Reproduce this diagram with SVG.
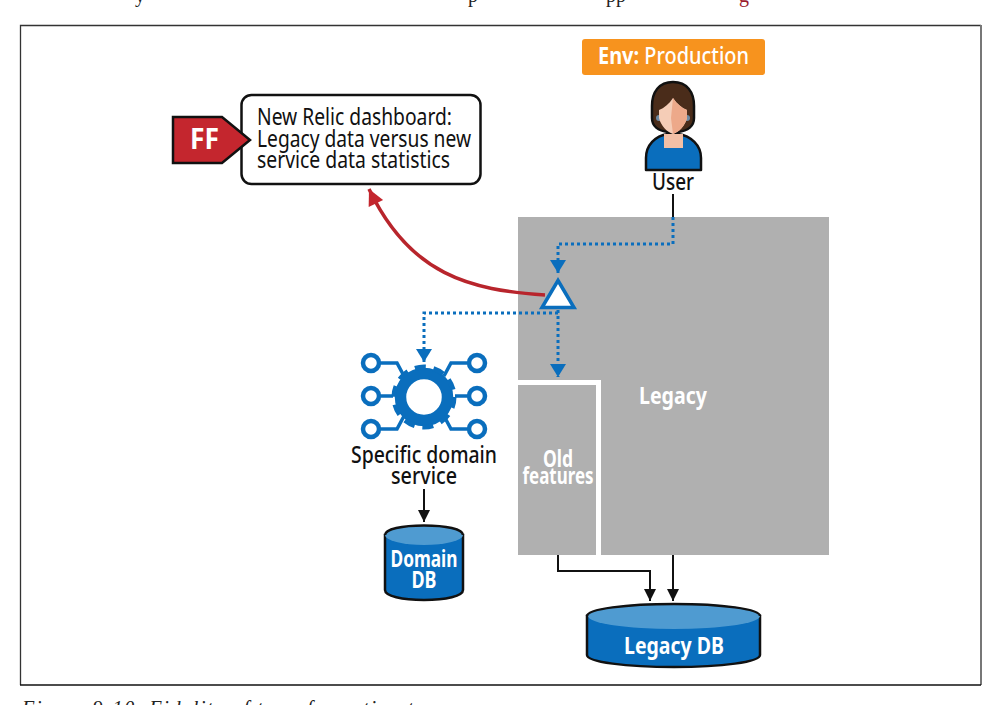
<svg xmlns="http://www.w3.org/2000/svg" width="995" height="705" viewBox="0 0 995 705">
<defs>
<style>
.t{font-family:"Noto Sans","Liberation Sans",sans-serif;font-size:24px;fill:#111}
.b{font-weight:700;fill:#fff}
.m{font-weight:500}
.c{text-anchor:middle}
.serif{font-family:"Liberation Serif",serif;font-size:20px;fill:#222}
.dot{fill:none;stroke:#0a6ebd;stroke-width:3;stroke-dasharray:3 3}
.blk{fill:none;stroke:#111;stroke-width:2}
.cyl{fill:#0a6ebd;stroke:#111;stroke-width:2.5}
.cap{fill:#4f9bd1}
.ring{fill:#fff;stroke:#0a6ebd;stroke-width:4.5}
.wire{fill:none;stroke:#0a6ebd;stroke-width:3.5}
</style>
<marker id="ab" markerUnits="userSpaceOnUse" markerWidth="16" markerHeight="14" refX="13" refY="7" orient="auto"><path d="M1 1 L13 7 L1 13Z" fill="#111"/></marker>
<marker id="au" markerUnits="userSpaceOnUse" markerWidth="20" markerHeight="20" refX="14" refY="9" orient="auto"><path d="M1 1 L14 9 L1 17Z" fill="#0a6ebd"/></marker>
<marker id="ar" markerUnits="userSpaceOnUse" markerWidth="20" markerHeight="20" refX="17" refY="9" orient="auto"><path d="M1 1 L17 9 L1 17Z" fill="#c4262e"/></marker>
</defs>
<rect width="995" height="705" fill="#fff"/>
<text class="serif" x="135" y="2">y</text>
<text class="serif" x="468" y="2">p</text>
<text class="serif" x="606" y="2">pp</text>
<text class="serif" x="739" y="2" style="fill:#9b1c2e">g</text>
<path d="M20.500 685V25.500H981" fill="none" stroke="#333" stroke-width="1.300"/>
<path d="M981 25V685" fill="none" stroke="#777" stroke-width="2"/>
<path d="M20 685H981" fill="none" stroke="#111" stroke-width="1.500"/>
<text class="serif" x="22" y="715" font-style="italic" textLength="403">Figure 9-10. Fidelity of transformation to</text>

<g id="legacy">
<rect x="518" y="217" width="311" height="338" fill="#b0b0b0"/>
<path d="M518 382.500H598.500V555" fill="none" stroke="#fff" stroke-width="5"/>
<text class="t b c" x="673" y="404" textLength="68" lengthAdjust="spacingAndGlyphs">Legacy</text>
<text class="t b c" x="558" y="467" textLength="30" lengthAdjust="spacingAndGlyphs">Old</text>
<text class="t b c" x="558" y="484" textLength="71" lengthAdjust="spacingAndGlyphs">features</text>
</g>

<g id="connectors">
<path class="blk" d="M673 194V217"/>
<path class="dot" d="M673 217V244H558V273" marker-end="url(#au)"/>
<path class="dot" d="M558 310V377" marker-end="url(#au)"/>
<path class="dot" d="M558 313H424V362" marker-end="url(#au)"/>
<path d="M545 295C470 290 410 275 369 189" fill="none" stroke="#b8252c" stroke-width="3.500" marker-end="url(#ar)"/>
<path class="blk" d="M424 489V522" marker-end="url(#ab)"/>
<path class="blk" d="M558 555V571H650V601" marker-end="url(#ab)"/>
<path class="blk" d="M673 555V601" marker-end="url(#ab)"/>
</g>

<g id="router"><path d="M558 280.500L574 307.500H542Z" fill="#fff" stroke="#0a6ebd" stroke-width="3.500"/></g>

<g id="dashboard">
<rect x="241.500" y="95" width="239" height="89" rx="10" fill="#fff" stroke="#111" stroke-width="2.500"/>
<text class="t" x="257" y="125" textLength="195" lengthAdjust="spacingAndGlyphs">New Relic dashboard:</text>
<text class="t" x="257" y="147" textLength="214" lengthAdjust="spacingAndGlyphs">Legacy data versus new</text>
<text class="t" x="257" y="168" textLength="193" lengthAdjust="spacingAndGlyphs">service data statistics</text>
</g>

<g id="ff">
<path d="M173 117H222L250 140L222 163H173Z" fill="#c4262e" stroke="#111" stroke-width="2.500"/>
<text class="t b" x="190" y="149" style="font-size:29px" textLength="29" lengthAdjust="spacingAndGlyphs">FF</text>
</g>

<g id="env">
<rect x="582" y="39" width="183" height="36" rx="3" fill="#f7931e"/>
<text class="t" x="598" y="64" style="fill:#fff" textLength="151" lengthAdjust="spacingAndGlyphs"><tspan font-weight="700">Env:</tspan><tspan font-weight="500"> Production</tspan></text>
</g>

<g id="user">
<path d="M646 170V158C646 145 655 136 668 134H678C691 136 701 145 701 158V170Z" fill="#0a6ebd" stroke="#111" stroke-width="2.500" stroke-linejoin="round"/>
<rect x="664" y="134" width="19" height="14" fill="#f2c0a6"/>
<path d="M673 82C659 82 652 92 652 106V118C652 126 658 131 668 132H678C688 131 694 126 694 118V106C694 92 687 82 673 82Z" fill="#4a2c1a" stroke="#111" stroke-width="2.500"/>
<circle cx="659" cy="118" r="3" fill="#6d8aa3"/><circle cx="687" cy="118" r="3" fill="#6d8aa3"/>
<path d="M673 98C669 104 664 108 659 110V118C661 126 667 132 673 134C679 132 685 126 687 118V110C682 108 677 104 673 98Z" fill="#f5cdb7"/>
<path d="M673 98C677 104 682 108 687 110V118C685 126 679 132 673 134L671 118Z" fill="#eda98a"/>
<text class="t m c" x="673" y="190" textLength="42" lengthAdjust="spacingAndGlyphs">User</text>
</g>

<g id="service">
<path class="wire" d="M381 363H397L404 376M381 396H393M381 429H397L404 416M467 363H451L444 376M467 396H455M467 429H451L444 416"/>
<circle class="ring" cx="371" cy="363" r="8"/><circle class="ring" cx="371" cy="396" r="8"/><circle class="ring" cx="371" cy="429" r="8"/>
<circle class="ring" cx="477" cy="363" r="8"/><circle class="ring" cx="477" cy="396" r="8"/><circle class="ring" cx="477" cy="429" r="8"/>
<circle cx="424" cy="397" r="23.500" fill="none" stroke="#0a6ebd" stroke-width="11.500"/>
<circle cx="424" cy="397" r="30" fill="none" stroke="#0a6ebd" stroke-width="5" stroke-dasharray="11 7.850"/>
<text class="t m c" x="424" y="463" textLength="146" lengthAdjust="spacingAndGlyphs">Specific domain</text>
<text class="t m c" x="424" y="484" textLength="66" lengthAdjust="spacingAndGlyphs">service</text>
</g>

<g id="domain-db">
<path class="cyl" d="M385 535V590C385 596 402 600 424 600S463 596 463 590V535Z"/>
<ellipse class="cap" cx="424" cy="535" rx="39" ry="10"/>
<path d="M385 535C385 529 402 525.500 424 525.500S463 529 463 535" fill="none" stroke="#111" stroke-width="2.500"/>
<text class="t b c" x="424" y="567" textLength="67" lengthAdjust="spacingAndGlyphs">Domain</text>
<text class="t b c" x="424" y="588" textLength="25" lengthAdjust="spacingAndGlyphs">DB</text>
</g>

<g id="legacy-db">
<path class="cyl" d="M587 616V655C587 662 626 667 674 667S760 662 760 655V616Z"/>
<ellipse class="cap" cx="674" cy="616" rx="86" ry="13"/>
<path d="M587 616C587 609 626 604 674 604S760 609 760 616" fill="none" stroke="#111" stroke-width="2.500"/>
<text class="t b c" x="674" y="654" textLength="100" lengthAdjust="spacingAndGlyphs">Legacy DB</text>
</g>
</svg>
